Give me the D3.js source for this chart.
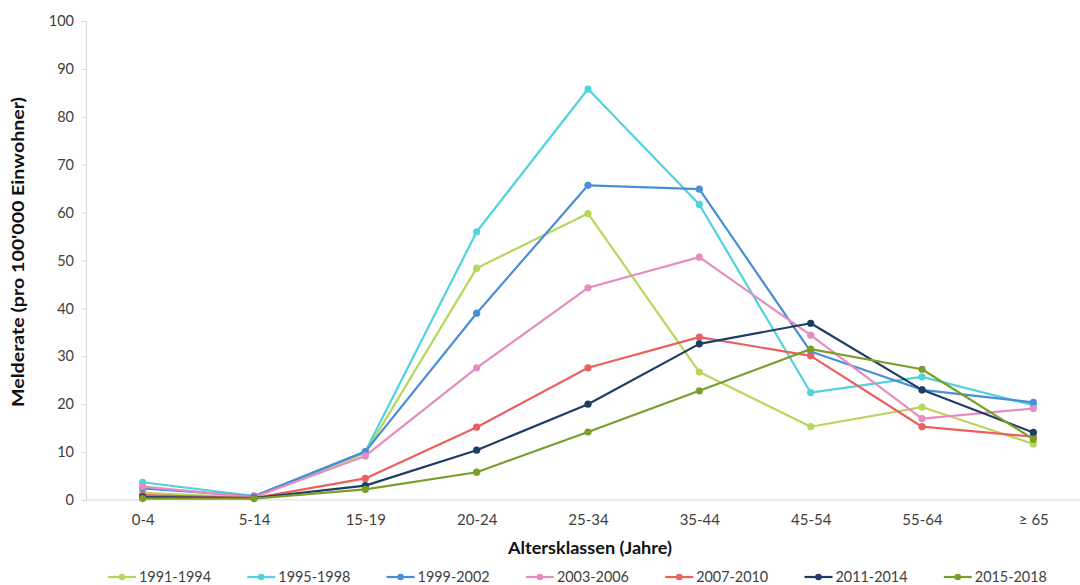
<!DOCTYPE html>
<html><head><meta charset="utf-8">
<script src="https://cdn.jsdelivr.net/npm/d3@7"></script>
<style>body{margin:0;background:#fff}svg{display:block;font-family:Lato,"Open Sans",sans-serif}</style>
</head><body><svg id="c" width="1080" height="585"></svg>
<script>
const categories = ["0-4","5-14","15-19","20-24","25-34","35-44","45-54","55-64","\u2265 65"];
const seriesNames = ["1991-1994","1995-1998","1999-2002","2003-2006","2007-2010","2011-2014","2015-2018"];
const s1991 = [1.5, 0.5, 9.8, 48.4, 59.8, 26.7, 15.3, 19.4, 11.7];
const s1995 = [3.7, 0.8, 10.1, 56.0, 85.8, 61.7, 22.4, 25.7, 19.8];
const s1999 = [2.4, 0.8, 10.1, 39.0, 65.7, 64.9, 31.0, 23.0, 20.4];
const s2003 = [2.8, 0.6, 9.2, 27.6, 44.3, 50.7, 34.4, 17.0, 19.1];
const s2007 = [1.0, 0.4, 4.5, 15.2, 27.6, 34.0, 30.1, 15.3, 13.2];
const s2011 = [0.6, 0.4, 3.0, 10.4, 20.0, 32.6, 36.9, 23.0, 14.1];
const s2015 = [0.3, 0.3, 2.2, 5.8, 14.2, 22.8, 31.5, 27.3, 12.7];
const yTicks = [0,10,20,30,40,50,60,70,80,90,100];
const colors = ["#b9d65c","#52d2de","#4a8ed6","#e68cbf","#eb5f5f","#1d3d63","#7b9e2b"];
const allSeries = [s1991,s1995,s1999,s2003,s2007,s2011,s2015];

const svg = d3.select("#c");
const L = 87, R = 1089, T = 21, B = 500;
const x = d3.scalePoint().domain(categories).range([L, R]).padding(0.5);
const y = d3.scaleLinear().domain([0,100]).range([B, T]);

// y axis
const ya = svg.append("g").attr("transform",`translate(${L-1},0)`)
  .call(d3.axisLeft(y).tickValues(yTicks).tickSize(5).tickPadding(7));
ya.select(".domain").attr("stroke","#d9d9d9");
ya.selectAll(".tick line").attr("stroke","#d9d9d9");
ya.selectAll("text").attr("fill","#404040").attr("font-size",14.5).attr("font-family","Lato,'Open Sans',sans-serif");

// x axis
const xa = svg.append("g").attr("transform",`translate(0,${B})`)
  .call(d3.axisBottom(x).tickSize(0).tickPadding(14));
xa.select(".domain").attr("stroke","#d9d9d9").attr("d",`M${L-1},0H1080`);
xa.selectAll("text").attr("fill","#404040").attr("font-size",15).attr("font-family","Lato,'Open Sans',sans-serif");

// titles
svg.append("text").attr("x",590).attr("y",554).attr("text-anchor","middle")
  .attr("font-weight","bold").attr("font-size",17).attr("fill","#111")
  .attr("textLength",164).attr("lengthAdjust","spacingAndGlyphs").text("Altersklassen (Jahre)");
svg.append("text").attr("transform","translate(24,252) rotate(-90)").attr("text-anchor","middle")
  .attr("font-weight","bold").attr("font-size",17).attr("fill","#111")
  .attr("textLength",310).attr("lengthAdjust","spacingAndGlyphs").text("Melderate (pro 100'000 Einwohner)");

const line = d3.line().x((d,i)=>x(categories[i])).y(d=>y(d));
allSeries.forEach((s,k)=>{
  const g = svg.append("g");
  g.append("path").datum(s).attr("d",line).attr("fill","none")
    .attr("stroke",colors[k]).attr("stroke-width",2.2).attr("stroke-linejoin","round");
  g.selectAll("circle").data(s).join("circle")
    .attr("cx",(d,i)=>x(categories[i])).attr("cy",d=>y(d)).attr("r",3.6).attr("fill",colors[k]);
});

// legend
const leg = svg.append("g");
seriesNames.forEach((n,k)=>{
  const lx = 108 + k*139.3, ly = 577;
  leg.append("line").attr("x1",lx).attr("x2",lx+28).attr("y1",ly).attr("y2",ly)
    .attr("stroke",colors[k]).attr("stroke-width",2.2);
  leg.append("circle").attr("cx",lx+14).attr("cy",ly).attr("r",3.3).attr("fill",colors[k]);
  leg.append("text").attr("x",lx+31).attr("y",ly+5).attr("font-size",15)
    .attr("fill","#404040").attr("textLength",72).attr("lengthAdjust","spacingAndGlyphs").text(n);
});
</script></body></html>
